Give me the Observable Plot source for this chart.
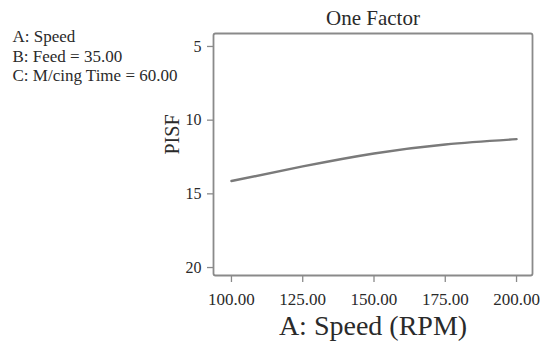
<!DOCTYPE html>
<html>
<head>
<meta charset="utf-8">
<script src="https://cdn.jsdelivr.net/npm/d3@7"></script>
<script src="https://cdn.jsdelivr.net/npm/@observablehq/plot@0.6"></script>
<style>
  html, body { margin: 0; padding: 0; background: #fff; }
  #chart { width: 544px; height: 348px; }
</style>
</head>
<body>
<div id="chart"></div>
<script>
const speed = [100, 125, 150, 175, 200];
const pisf = [14.13, 13.14, 12.26, 11.65, 11.29];
const xTicks = [100, 125, 150, 175, 200];
const yTicks = [5, 10, 15, 20];
const title = "One Factor";
const xLabel = "A: Speed (RPM)";
const yLabel = "PISF";
const factorLines = ["A: Speed", "B: Feed = 35.00", "C: M/cing Time = 60.00"];

const data = speed.map((s, i) => ({speed: s, pisf: pisf[i]}));
const gray = "#8a8a8a";
const ink = "#2a2a2a";

const plot = Plot.plot({
  width: 544,
  height: 348,
  marginLeft: 213,
  marginRight: 12,
  marginTop: 33,
  marginBottom: 73,
  style: {fontFamily: "Liberation Serif", color: ink, background: "#fff"},
  x: {domain: [93.7, 205.6]},
  y: {domain: [4.12, 20.54], reverse: true},
  marks: [
    Plot.frame({stroke: gray, strokeWidth: 1.8, rx: 2}),
    Plot.axisX({ticks: xTicks, tickFormat: d3.format(".2f"), tickSize: 7, tickPadding: 10, stroke: gray, strokeWidth: 1.3, fill: ink, fontSize: 17, label: null}),
    Plot.axisY({ticks: yTicks, tickFormat: d3.format("d"), tickSize: 6, tickPadding: 6, stroke: gray, strokeWidth: 1.3, fill: ink, fontSize: 16, label: null}),
    Plot.line(data, {x: "speed", y: "pisf", curve: "natural", stroke: "#7a7a7a", strokeWidth: 2.4}),
    Plot.text([title], {text: d => d, frameAnchor: "top", dy: -23, fontSize: 21, fill: ink}),
    Plot.text([xLabel], {text: d => d, frameAnchor: "bottom", dy: 59, fontSize: 28, fill: ink}),
    Plot.text([yLabel], {text: d => d, frameAnchor: "left", dx: -41, dy: 0, rotate: -90, fontSize: 20, fill: ink}),
    Plot.text([factorLines.join("\n")], {text: d => d, frameAnchor: "top-left", textAnchor: "start", lineAnchor: "top", lineHeight: 1.15, dx: -201, dy: -5, fontSize: 17, fill: ink})
  ]
});
document.getElementById("chart").appendChild(plot);
</script>
</body>
</html>
